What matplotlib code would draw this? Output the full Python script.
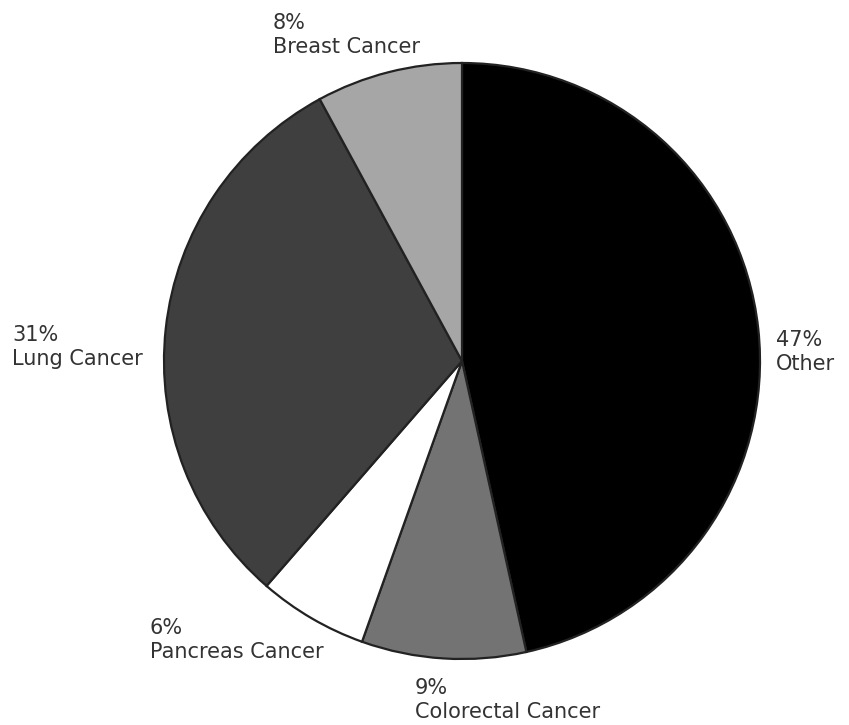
import matplotlib
matplotlib.use("Agg")
import matplotlib.pyplot as plt

# share of cancer deaths by type, clockwise from 12 o'clock
categories = ["Other", "Colorectal Cancer", "Pancreas Cancer", "Lung Cancer", "Breast Cancer"]
percents = [47, 9, 6, 31, 8]
colors = ["#000000", "#737373", "#ffffff", "#3f3f3f", "#a6a6a6"]

# top-left corner of each label block, in pixels from the top-left of the figure
label_pos = [(776, 330), (415, 678), (150, 618), (12, 325), (273, 13)]

W, H = 849, 725
fig = plt.figure(figsize=(W / 100, H / 100), dpi=100)
ax = fig.add_axes([0, 0, 1, 1])

ax.pie(
    percents,
    colors=colors,
    startangle=90,
    counterclock=False,
    radius=298,
    center=(462, H - 361),
    wedgeprops=dict(edgecolor="#222222", linewidth=1.6),
)

for name, pct, (x, y) in zip(categories, percents, label_pos):
    ax.text(
        x, H - y, "{}%\n{}".format(pct, name),
        ha="left", va="top", fontsize=15, color="#333333",
        linespacing=1.25,
    )

ax.set_xlim(0, W)
ax.set_ylim(0, H)
ax.set_aspect("equal")
ax.axis("off")

fig.savefig("out.png", dpi=100, facecolor="white")
